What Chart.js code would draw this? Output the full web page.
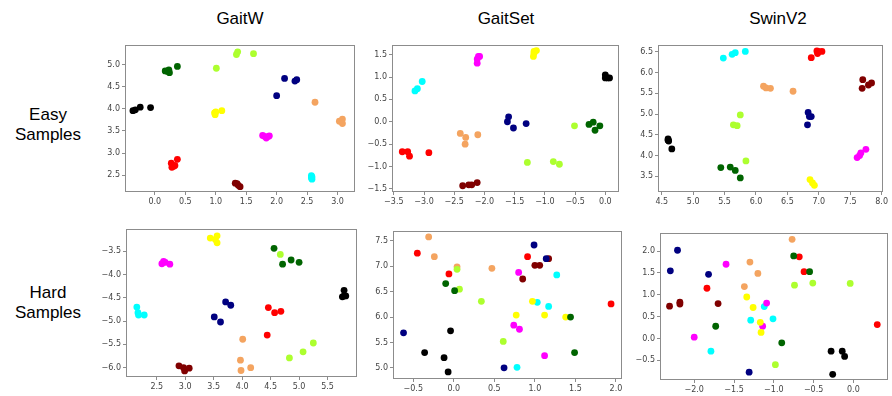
<!DOCTYPE html>
<html>
<head>
<meta charset="utf-8">
<script src="https://cdn.jsdelivr.net/npm/chart.js@4"></script>
<style>
  html, body { margin:0; padding:0; background:#fff; width:892px; height:396px; overflow:hidden; }
  .lbl { position:absolute; font-family:"Liberation Sans", Arial, sans-serif; font-size:17px; color:#000; text-align:center; line-height:20px; white-space:nowrap; }
  canvas { position:absolute; }
</style>
</head>
<body>
<div class="lbl" style="left:190px; top:9px; width:100px;">GaitW</div>
<div class="lbl" style="left:456px; top:9px; width:100px;">GaitSet</div>
<div class="lbl" style="left:728px; top:9px; width:100px;">SwinV2</div>
<div class="lbl" style="left:0px; top:105px; width:96px;">Easy<br>Samples</div>
<div class="lbl" style="left:0px; top:283px; width:96px;">Hard<br>Samples</div>

<canvas id="c1"></canvas>
<canvas id="c2"></canvas>
<canvas id="c3"></canvas>
<canvas id="c4"></canvas>
<canvas id="c5"></canvas>
<canvas id="c6"></canvas>

<script>
// class order: 0 black, 1 darkgreen, 2 greenyellow, 3 yellow, 4 navy, 5 sandybrown, 6 magenta, 7 red, 8 maroon, 9 cyan
const classNames = ['black','darkgreen','greenyellow','yellow','navy','sandybrown','magenta','red','maroon','cyan'];
const classColors = ['#000000','#006400','#ADFF2F','#FFFF00','#000080','#F4A460','#FF00FF','#FF0000','#800000','#00FFFF'];

const columnTitles = ['GaitW','GaitSet','SwinV2'];
const rowTitles = ['Easy Samples','Hard Samples'];

// points: [x, y, classIndex]
const gaitWEasy = [
  [-0.36,3.96,0],[-0.32,3.98,0],[-0.24,4.04,0],[-0.07,4.03,0],
  [0.17,4.86,1],[0.20,4.85,1],[0.23,4.88,1],[0.24,4.82,1],[0.37,4.96,1],
  [1.01,4.92,2],[1.34,5.23,2],[1.36,5.29,2],[1.62,5.25,2],
  [0.98,3.91,3],[0.99,3.87,3],[1.00,3.93,3],[1.10,3.96,3],
  [2.00,4.30,4],[2.13,4.69,4],[2.30,4.63,4],[2.33,4.66,4],
  [2.63,4.15,5],[3.03,3.72,5],[3.08,3.77,5],[3.08,3.67,5],
  [1.77,3.40,6],[1.80,3.38,6],[1.83,3.34,6],[1.87,3.38,6],[1.88,3.39,6],
  [0.27,2.77,7],[0.28,2.68,7],[0.31,2.70,7],[0.33,2.72,7],[0.37,2.86,7],
  [1.32,2.32,8],[1.35,2.31,8],[1.37,2.27,8],[1.40,2.24,8],
  [2.57,2.49,9],[2.57,2.44,9],[2.58,2.41,9],[2.58,2.46,9]
];
const gaitSetEasy = [
  [0.00,1.05,0],[0.00,0.98,0],[0.04,0.98,0],[0.07,0.98,0],
  [-0.27,-0.06,1],[-0.20,-0.01,1],[-0.17,-0.19,1],[-0.09,-0.09,1],
  [-0.51,-0.09,2],[-1.29,-0.91,2],[-0.86,-0.89,2],[-0.76,-0.95,2],
  [-1.19,1.46,3],[-1.18,1.57,3],[-1.14,1.59,3],[-1.18,1.53,3],
  [-1.60,0.11,4],[-1.62,0.00,4],[-1.52,-0.14,4],[-1.31,-0.04,4],
  [-2.40,-0.26,5],[-2.31,-0.35,5],[-2.32,-0.50,5],[-2.11,-0.29,5],
  [-2.12,1.31,6],[-2.12,1.40,6],[-2.10,1.46,6],[-2.08,1.46,6],
  [-3.36,-0.67,7],[-3.27,-0.67,7],[-3.24,-0.77,7],[-2.92,-0.69,7],
  [-2.36,-1.43,8],[-2.26,-1.41,8],[-2.21,-1.41,8],[-2.12,-1.36,8],
  [-3.15,0.69,9],[-3.11,0.74,9],[-3.03,0.90,9]
];
const swinV2Easy = [
  [4.60,4.40,0],[4.60,4.37,0],[4.61,4.35,0],[4.66,4.16,0],
  [5.44,3.71,1],[5.59,3.72,1],[5.67,3.64,1],[5.75,3.46,1],
  [5.75,4.98,2],[5.64,4.74,2],[5.70,4.72,2],[5.84,3.87,2],
  [6.86,3.42,3],[6.90,3.34,3],[6.93,3.28,3],
  [6.83,5.04,4],[6.85,4.94,4],[6.88,4.94,4],[6.82,4.74,4],
  [6.12,5.67,5],[6.16,5.63,5],[6.23,5.62,5],[6.59,5.55,5],
  [7.61,3.95,6],[7.65,4.00,6],[7.67,4.06,6],[7.75,4.15,6],
  [6.88,6.36,7],[6.98,6.46,7],[6.99,6.51,7],[7.05,6.51,7],[6.97,6.52,7],
  [7.70,5.83,8],[7.69,5.62,8],[7.79,5.70,8],[7.84,5.75,8],
  [5.48,6.35,9],[5.62,6.44,9],[5.67,6.48,9],[5.83,6.51,9]
];
const gaitWHard = [
  [5.79,-4.34,0],[5.79,-4.46,0],[5.82,-4.46,0],[5.76,-4.48,0],
  [4.56,-3.44,1],[4.86,-3.69,1],[4.71,-3.78,1],[5.00,-3.74,1],
  [4.67,-3.57,2],[5.25,-5.47,2],[5.07,-5.66,2],[4.83,-5.79,2],
  [3.44,-3.22,3],[3.53,-3.25,3],[3.56,-3.17,3],[3.56,-3.32,3],
  [3.71,-4.59,4],[3.80,-4.66,4],[3.51,-4.91,4],[3.62,-5.02,4],
  [4.01,-5.39,5],[3.97,-5.84,5],[3.98,-6.06,5],[4.15,-6.00,5],
  [2.59,-3.77,6],[2.62,-3.72,6],[2.65,-3.74,6],[2.73,-3.78,6],
  [4.46,-4.71,7],[4.57,-4.82,7],[4.68,-4.79,7],[4.44,-5.30,7],
  [2.89,-5.96,8],[2.97,-6.00,8],[2.99,-6.07,8],[3.07,-6.01,8],
  [2.15,-4.70,9],[2.17,-4.82,9],[2.18,-4.87,9],[2.28,-4.87,9]
];
const gaitSetHard = [
  [-0.04,5.73,0],[-0.36,5.30,0],[-0.12,5.20,0],[-0.07,4.92,0],
  [-0.10,6.66,1],[0.01,6.52,1],[1.44,6.00,1],[1.49,5.30,1],
  [0.04,6.94,2],[0.07,6.55,2],[0.34,6.31,2],[0.61,5.52,2],
  [0.97,6.31,3],[0.77,6.04,3],[1.12,6.04,3],[1.38,6.00,3],
  [0.99,7.42,4],[1.14,7.15,4],[-0.62,5.69,4],[0.62,5.00,4],
  [-0.31,7.58,5],[-0.24,7.19,5],[0.04,6.99,5],[0.47,6.96,5],
  [0.80,6.88,6],[0.74,5.84,6],[0.81,5.76,6],[1.12,5.24,6],
  [-0.45,7.26,7],[-0.06,6.85,7],[0.91,7.19,7],[1.94,6.26,7],
  [1.00,7.02,8],[1.06,7.02,8],[1.17,7.15,8],[0.85,6.75,8],
  [1.27,6.83,9],[1.03,6.29,9],[1.17,6.21,9],[0.78,5.01,9]
];
const swinV2Hard = [
  [-0.28,-0.29,0],[-0.14,-0.29,0],[-0.11,-0.41,0],[-0.26,-0.82,0],
  [-0.75,1.89,1],[-0.55,1.53,1],[-1.73,0.28,1],[-0.90,-0.10,1],
  [-0.74,1.22,2],[-0.51,1.27,2],[-0.04,1.26,2],[-0.98,-0.60,2],
  [-1.34,0.95,3],[-1.26,0.71,3],[-1.17,0.37,3],[-1.16,0.14,3],
  [-2.21,2.02,4],[-2.30,1.55,4],[-1.82,1.47,4],[-1.31,-0.77,4],
  [-0.77,2.27,5],[-1.30,1.75,5],[-1.20,1.49,5],[-1.37,1.19,5],
  [-1.60,1.70,6],[-1.09,0.81,6],[-1.14,0.28,6],[-2.00,0.03,6],
  [-0.68,1.87,7],[-0.62,1.53,7],[-1.84,1.15,7],[0.30,0.32,7],
  [-2.31,0.74,8],[-2.18,0.83,8],[-2.18,0.79,8],[-1.70,0.80,8],
  [-1.12,0.73,9],[-1.29,0.42,9],[-1.01,0.45,9],[-1.79,-0.29,9]
];

// axis ranges and tick labels
const xRanges = [[-0.49,3.28],[-3.53,0.22],[4.44,8.03],[1.96,6.01],[-0.75,2.07],[-2.43,0.43]];
const yRanges = [[2.12,5.45],[-1.57,1.72],[3.12,6.67],[-6.20,-3.02],[4.78,7.70],[-0.95,2.42]];
const xTicks1 = [0.0,0.5,1.0,1.5,2.0,2.5,3.0];
const yTicks1 = [2.5,3.0,3.5,4.0,4.5,5.0];
const xTicks2 = [-3.5,-3.0,-2.5,-2.0,-1.5,-1.0,-0.5,0.0];
const yTicks2 = [-1.5,-1.0,-0.5,0.0,0.5,1.0,1.5];
const xTicks3 = [4.5,5.0,5.5,6.0,6.5,7.0,7.5,8.0];
const yTicks3 = [3.5,4.0,4.5,5.0,5.5,6.0,6.5];
const xTicks4 = [2.5,3.0,3.5,4.0,4.5,5.0,5.5];
const yTicks4 = [-6.0,-5.5,-5.0,-4.5,-4.0,-3.5];
const xTicks5 = [-0.5,0.0,0.5,1.0,1.5,2.0];
const yTicks5 = [5.0,5.5,6.0,6.5,7.0,7.5];
const xTicks6 = [-2.0,-1.5,-1.0,-0.5,0.0];
const yTicks6 = [-0.5,0.0,0.5,1.0,1.5,2.0];

const panels = [
  {id:'c1', pts:gaitWEasy,   xt:xTicks1, yt:yTicks1, box:[125,44,355,192]},
  {id:'c2', pts:gaitSetEasy, xt:xTicks2, yt:yTicks2, box:[392,44,619,192]},
  {id:'c3', pts:swinV2Easy,  xt:xTicks3, yt:yTicks3, box:[658,44,887,192]},
  {id:'c4', pts:gaitWHard,   xt:xTicks4, yt:yTicks4, box:[126,228,357,377]},
  {id:'c5', pts:gaitSetHard, xt:xTicks5, yt:yTicks5, box:[393,230,622,379]},
  {id:'c6', pts:swinV2Hard,  xt:xTicks6, yt:yTicks6, box:[660,232,888,380]}
];

const Y_W = 36, X_H = 20, PAD_T = 6, PAD_R = 3;
const frameColor = '#8c8c8c';

const framePlugin = {
  id: 'frame',
  afterDraw(chart) {
    const a = chart.chartArea, ctx = chart.ctx;
    ctx.save();
    ctx.strokeStyle = frameColor;
    ctx.lineWidth = 1;
    ctx.strokeRect(Math.round(a.left)+0.5, Math.round(a.top)+0.5, Math.round(a.right-a.left)-1, Math.round(a.bottom-a.top)-1);
    ctx.restore();
  }
};

function fmt(v) {
  const s = Math.abs(v).toFixed(1);
  return (v < -1e-9 ? '\u2212' : '') + s;
}

panels.forEach((p, idx) => {
  const [l,t,r,b] = p.box;
  const cv = document.getElementById(p.id);
  const w = (r - l) + Y_W + PAD_R;
  const h = (b - t) + PAD_T + X_H;
  cv.style.left = (l - Y_W) + 'px';
  cv.style.top = (t - PAD_T) + 'px';
  cv.style.width = w + 'px';
  cv.style.height = h + 'px';
  cv.width = w; cv.height = h;

  const datasets = classNames.map((name, ci) => ({
    label: name,
    data: p.pts.filter(q => q[2] === ci).map(q => ({x:q[0], y:q[1]})),
    backgroundColor: classColors[ci],
    borderColor: classColors[ci],
    borderWidth: 0,
    pointRadius: 3.4,
    pointHoverRadius: 3.4
  }));

  const tickFont = {family:'DejaVu Sans', size:8};
  const common = (ticksArr) => ({
    type: 'linear',
    grid: {display:true, drawOnChartArea:false, drawTicks:true, tickLength:3, color:frameColor},
    border: {display:false},
    afterBuildTicks: (s) => { s.ticks = ticksArr.map(v => ({value:v})); },
    ticks: {font:tickFont, color:'#444', padding:2, autoSkip:false, maxRotation:0, callback:(v)=>fmt(v)}
  });

  const xs = Object.assign(common(p.xt), {
    position:'bottom', min:xRanges[idx][0], max:xRanges[idx][1],
    afterFit: (s) => { s.height = X_H; }
  });
  const ys = Object.assign(common(p.yt), {
    position:'left', min:yRanges[idx][0], max:yRanges[idx][1],
    afterFit: (s) => { s.width = Y_W; }
  });

  new Chart(cv, {
    type: 'scatter',
    data: {datasets},
    options: {
      responsive:false,
      animation:false,
      devicePixelRatio:1,
      layout:{padding:{top:PAD_T, right:PAD_R, left:0, bottom:0}},
      plugins:{legend:{display:false}, tooltip:{enabled:false}, title:{display:false}},
      scales:{x:xs, y:ys}
    },
    plugins:[framePlugin]
  });
});
</script>
</body>
</html>
